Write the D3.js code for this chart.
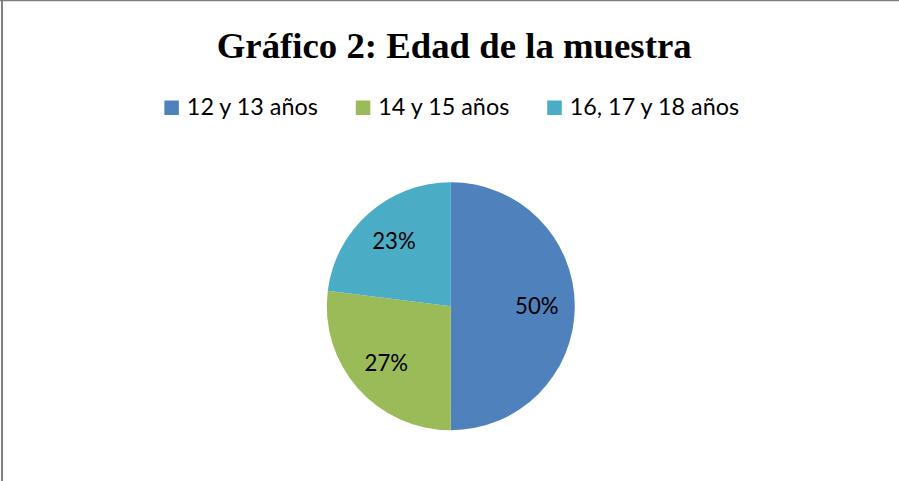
<!DOCTYPE html>
<html>
<head>
<meta charset="utf-8">
<script src="https://cdn.jsdelivr.net/npm/d3@7"></script>
<style>
  html, body { margin: 0; padding: 0; background: #fff; }
  svg { display: block; }
</style>
</head>
<body>
<svg id="chart" width="899" height="481"></svg>
<script>
const titleText = "Gráfico 2: Edad de la muestra";
const categories = ["12 y 13 años", "14 y 15 años", "16, 17 y 18 años"];
const values = [50, 27, 23];
const colors = ["#4F81BD", "#9BBB59", "#4BACC6"];

const W = 899, H = 481;
const svg = d3.select("#chart");
const sansFont = "Lato, 'Open Sans', sans-serif";

// frame
svg.append("line").attr("x1", 2).attr("y1", 0).attr("x2", 2).attr("y2", H)
  .attr("stroke", "#808080").attr("stroke-width", 2);
svg.append("line").attr("x1", 0).attr("y1", 0.5).attr("x2", W).attr("y2", 0.5)
  .attr("stroke", "#808080").attr("stroke-width", 1.5);

// helper to fit font size to target width
function fitSize(text, family, weight, target, base) {
  const t = svg.append("text").attr("font-family", family).attr("font-weight", weight)
    .attr("font-size", base).text(text);
  const w = t.node().getComputedTextLength();
  t.remove();
  return base * target / w;
}

// title
const titleSize = fitSize(titleText, "'Liberation Serif', 'Times New Roman', serif", "bold", 475, 36);
svg.append("text")
  .attr("x", 454.2).attr("y", 58.3)
  .attr("text-anchor", "middle")
  .attr("font-family", "'Liberation Serif', 'Times New Roman', serif")
  .attr("font-weight", "bold")
  .attr("font-size", titleSize)
  .attr("fill", "#000")
  .text(titleText);

// legend
const legSize = fitSize(categories[0], sansFont, "normal", 131, 22);
const sq = 14.5, sqGap = 8, itemGap = 38;
const widths = categories.map(c => {
  const t = svg.append("text").attr("font-family", sansFont).attr("font-size", legSize).text(c);
  const w = t.node().getComputedTextLength(); t.remove(); return w;
});
const itemW = widths.map(w => sq + sqGap + w);
const totalW = d3.sum(itemW) + itemGap * (categories.length - 1);
let lx = 451.7 - totalW / 2;
const legend = svg.append("g");
categories.forEach((c, i) => {
  const g = legend.append("g").attr("transform", `translate(${lx},0)`);
  g.append("rect").attr("x", 0).attr("y", 100.5).attr("width", sq).attr("height", sq)
    .attr("fill", colors[i]);
  g.append("text").attr("x", sq + sqGap).attr("y", 115)
    .attr("font-family", sansFont).attr("font-size", legSize).attr("fill", "#000")
    .text(c);
  lx += itemW[i] + itemGap;
});

// pie
const cx = 450.8, cy = 306.2, r = 124;
const pie = d3.pie().sort(null).value(d => d.v);
const data = pie(values.map((v, i) => ({ v, c: categories[i], col: colors[i] })));
const arc = d3.arc().innerRadius(0).outerRadius(r);
const labelArc = d3.arc().innerRadius(86).outerRadius(86);
const g = svg.append("g").attr("transform", `translate(${cx},${cy})`);
g.selectAll("path").data(data).join("path")
  .attr("d", arc).attr("fill", d => d.data.col);

const labSize = fitSize("50%", sansFont, "normal", 43.5, 22);
g.selectAll("text.lab").data(data).join("text")
  .attr("class", "lab")
  .attr("transform", d => `translate(${labelArc.centroid(d)})`)
  .attr("text-anchor", "middle")
  .attr("dy", "0.35em")
  .attr("font-family", sansFont)
  .attr("font-size", labSize)
  .attr("fill", "#000")
  .text(d => d.data.v + "%");
</script>
</body>
</html>
